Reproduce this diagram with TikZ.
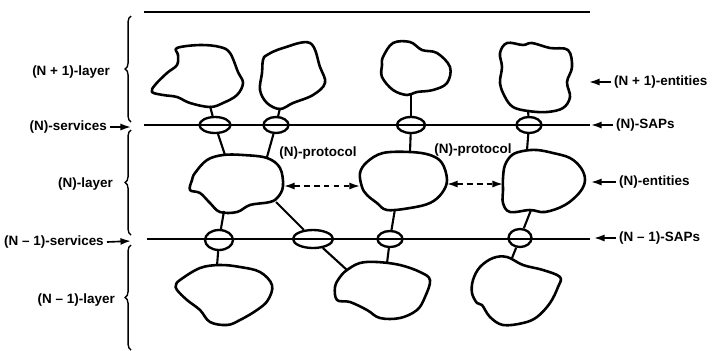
\documentclass[tikz,border=0pt]{standalone}
\usepackage{fontspec}
\setmainfont{Liberation Sans}
\usepackage{tikz}
\usetikzlibrary{arrows.meta}
\usetikzlibrary{shapes.geometric}
\usetikzlibrary{decorations.pathreplacing}

\begin{document}
\begin{tikzpicture} [x=0.03cm, y=-0.03cm,
  blob/.style={line width=2.2pt, line join=round},
  link/.style={line width=1.8pt},
  sap/.style={draw, ellipse, line width=2pt, inner sep=0pt},
  lbl/.style={font=\fontsize{11.5}{13}\selectfont\bfseries, inner sep=0pt},
  tip/.style={line width=1.4pt, -{Latex[length=9pt,width=6pt]}},
  peer/.style={line width=1.4pt, dash pattern=on 5pt off 3.5pt, {Latex[length=9pt,width=6pt]}-{Latex[length=9pt,width=6pt]}},
  layerbrace/.style={decorate, decoration={brace, amplitude=5pt}, line width=1.2pt}]
\useasboundingbox (0,0) rectangle (712,350);

\draw[line width=1.5pt] (144,12)--(590,12);
\draw[line width=1.5pt] (144,125)--(590,125);
\draw[line width=1.5pt] (147,239)--(590,239);

\draw[layerbrace] (131,122)--(131,16);
\draw[layerbrace] (131,235)--(131,130);
\draw[layerbrace] (131,350)--(131,245);

% left side
\node[lbl, anchor=east] (lnp) at (110,72) {(N + 1)-layer};
\node[lbl, anchor=east] (snn) at (107,127) {(N)-services};
\node[lbl, anchor=east] (lnn) at (113,184) {(N)-layer};
\node[lbl, anchor=east] (snm) at (104,242) {(N -- 1)-services};
\node[lbl, anchor=east] (lnm) at (115,300) {(N -- 1)-layer};
\coordinate (snnT) at (131,127);
\coordinate (snmT) at (131,241);
\draw[tip] (snn.east)++(3,0)--(snnT);
\draw[tip] (snm.east)++(3,0)--(snmT);

% right side
\node[lbl, anchor=west] (enp) at (614,82) {(N + 1)-entities};
\node[lbl, anchor=west] (sapn) at (616,125) {(N)-SAPs};
\node[lbl, anchor=west] (enn) at (619,182) {(N)-entities};
\node[lbl, anchor=west] (sapm) at (619,238) {(N -- 1)-SAPs};
\coordinate (enpT) at (589,82);
\coordinate (sapnT) at (591,125);
\coordinate (ennT) at (591,182);
\coordinate (sapmT) at (594,238);
\draw[tip] (enp.west)++(-3,0)--(enpT);
\draw[tip] (sapn.west)++(-3,0)--(sapnT);
\draw[tip] (enn.west)++(-3,0)--(ennT);
\draw[tip] (sapm.west)++(-3,0)--(sapmT);

% SAPs
\node[sap, minimum width=0.93cm, minimum height=0.48cm] (u1) at (215,125) {};
\node[sap, minimum width=0.75cm, minimum height=0.48cm] (u2) at (276,125) {};
\node[sap, minimum width=0.84cm, minimum height=0.48cm] (u3) at (411,125) {};
\node[sap, minimum width=0.75cm, minimum height=0.48cm] (u4) at (529,125) {};
\node[sap, minimum width=0.84cm, minimum height=0.6cm] (l1) at (219,240) {};
\node[sap, minimum width=1.2cm, minimum height=0.54cm] (l2) at (313,239) {};
\node[sap, minimum width=0.75cm, minimum height=0.48cm] (l3) at (390,239) {};
\node[sap, minimum width=0.69cm, minimum height=0.54cm] (l4) at (520,238) {};

% (N+1)-entities
\draw[blob] plot[smooth cycle, tension=.6] coordinates {(178,55) (177,48) (200,45) (220,47) (230,53) (238,72) (243,83) (237,95) (223,103) (210,107) (190,103) (177,97) (163,95) (152,92) (155,85) (167,73) (177,65)};
\draw[blob] plot[smooth cycle, tension=.6] coordinates {(267,55) (283,48) (310,43) (320,67) (325,83) (313,95) (293,103) (280,109) (267,103) (260,90) (262,73) (263,60)};
\draw[blob] plot[smooth cycle, tension=.6] coordinates {(383,57) (393,43) (410,42) (422,50) (437,53) (450,67) (447,83) (433,90) (417,92) (407,95) (393,90) (382,77) (382,65)};
\draw[blob] plot[smooth cycle, tension=.6] coordinates {(500,53) (507,43) (523,45) (532,43) (550,48) (568,50) (572,67) (567,82) (570,97) (563,108) (547,112) (528,111) (513,107) (505,97) (500,83) (502,67)};

% (N)-entities
\draw[blob] plot[smooth cycle, tension=.6] coordinates {(195,173) (207,160) (223,155) (243,155) (267,158) (280,168) (283,186) (278,197) (270,202) (250,205) (237,212) (220,212) (210,203) (200,193) (190,190) (192,180)};
\draw[blob] plot[smooth cycle, tension=.6] coordinates {(360,173) (367,162) (383,153) (410,152) (430,155) (442,163) (447,180) (442,193) (430,203) (410,208) (387,210) (377,203) (367,195) (362,187)};
\draw[blob] plot[smooth cycle, tension=.6] coordinates {(505,165) (512,155) (523,151) (537,150) (553,153) (570,158) (581,168) (585,180) (580,192) (565,205) (545,212) (530,210) (510,212) (503,203) (503,190) (503,178)};

% (N-1)-entities
\draw[blob] plot[smooth cycle, tension=.6] coordinates {(180,280) (200,268) (220,265) (240,267) (260,272) (272,285) (268,300) (257,310) (240,320) (227,325) (210,322) (200,310) (187,300) (177,290) (176,285)};
\draw[blob] plot[smooth cycle, tension=.6] coordinates {(347,270) (360,263) (377,262) (400,265) (420,272) (430,280) (425,297) (417,310) (400,318) (380,318) (367,310) (350,302) (337,300) (335,287) (340,277)};
\draw[blob] plot[smooth cycle, tension=.6] coordinates {(473,280) (480,267) (493,258) (507,257) (523,265) (543,270) (560,277) (558,287) (550,303) (537,317) (523,323) (503,325) (490,317) (482,305) (477,303) (472,293)};

\coordinate (b1s) at (210,106);
\coordinate (b2s) at (280,108);
\coordinate (b3s) at (411,94);
\coordinate (b4s) at (528,110);
\coordinate (b5a) at (225,155);
\coordinate (b5b) at (267,157);
\coordinate (b5s) at (224,211);
\coordinate (b5r) at (276,202);
\coordinate (b5e) at (284,186);
\coordinate (b6n) at (410,152);
\coordinate (b6s) at (395,209);
\coordinate (b6w) at (360,186);
\coordinate (b6e) at (447,184);
\coordinate (b7n) at (527,150);
\coordinate (b7s) at (531,210);
\coordinate (b7w) at (503,184);
\coordinate (b8n) at (217,266);
\coordinate (b9a) at (347,270);
\coordinate (b9n) at (387,263);
\coordinate (b10n) at (512,258);

\draw[link] (b1s)--(u1);
\draw[link] (b2s)--(u2);
\draw[link] (b3s)--(u3);
\draw[link] (b4s)--(u4);
\draw[link] (u1)--(b5a);
\draw[link] (u2)--(b5b);
\draw[link] (u3)--(b6n);
\draw[link] (u4)--(b7n);
\draw[link] (b5s)--(l1);
\draw[link] (b5r)--(l2);
\draw[link] (b6s)--(l3);
\draw[link] (b7s)--(l4);
\draw[link] (l1)--(b8n);
\draw[link] (l2)--(b9a);
\draw[link] (l3)--(b9n);
\draw[link] (l4)--(b10n);

% peer protocols
\draw[peer] (b5e)--(b6w);
\draw[peer] (b6e)--(b7w);
\node[lbl] (pr1) at (318,153) {(N)-protocol};
\node[lbl] (pr2) at (473,150) {(N)-protocol};

\end{tikzpicture}
\end{document}
